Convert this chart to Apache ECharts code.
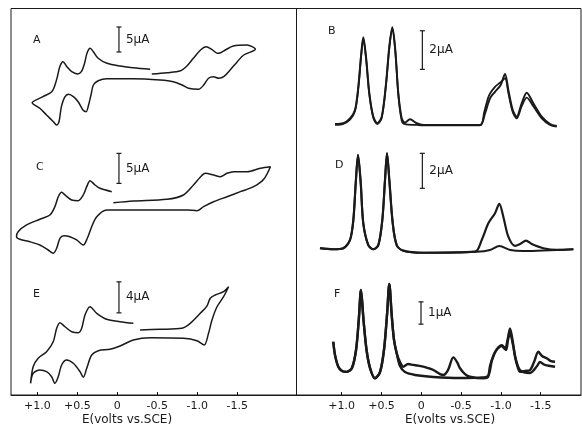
<!DOCTYPE html>
<html>
<head>
<meta charset="utf-8">
<script src="https://cdn.jsdelivr.net/npm/echarts@6/dist/echarts.min.js"></script>
<style>
html, body { margin: 0; padding: 0; background: #fff; }
#main { width: 582px; height: 430px; }
</style>
</head>
<body>
<div id="main"></div>
<script>
// potential ticks (volts vs SCE) on the bottom axes
var tickValues = [1, 0.5, 0, -0.5, -1, -1.5];

// cyclic voltammograms, [E (V), i (uA)] in sweep order
var cvA = [
	[-0.41,14.14],[-0.20,14.46],[-0.03,14.8],[0.13,15.34],[0.24,16.34],[0.30,17.66],[0.34,18.34],[0.38,17.34],
	[0.41,15.34],[0.45,13.66],[0.50,13.2],[0.57,13.66],[0.63,14.66],[0.68,15.66],[0.72,14.66],[0.75,12.66],
	[0.78,11.0],[0.82,9.66],[0.93,8.66],[1.065,7.46],
	[0.97,6.34],[0.885,5.0],[0.80,3.66],[0.76,3.0],[0.73,3.66],[0.70,6.66],[0.66,8.54],[0.61,9.14],[0.55,8.66],
	[0.49,7.66],[0.43,6.0],[0.39,5.66],[0.36,7.0],[0.33,9.0],[0.30,11.0],[0.24,11.86],[0.13,12.26],[-0.20,12.26],
	[-0.535,12.0],[-0.70,11.66],[-0.81,11.0],[-0.89,10.34],[-1.015,10.14],[-1.08,11.0],[-1.14,12.34],[-1.20,12.66],
	[-1.27,12.34],[-1.33,12.66],[-1.41,14.0],[-1.50,15.66],[-1.58,17.0],[-1.726,18.14],
	[-1.62,19.0],[-1.45,18.8],[-1.35,18.0],[-1.29,17.46],[-1.25,17.34],[-1.18,18.14],[-1.11,18.66],[-1.04,18.0],
	[-0.95,16.34],[-0.87,14.8],[-0.79,13.86],[-0.62,13.46],[-0.43,13.2]
];
var cvC = [
	[0.07,12.72],[0.217,13.28],[0.279,13.83],[0.342,14.55],[0.383,13.55],[0.426,12.17],[0.489,11.22],[0.571,11.33],
	[0.655,12.17],[0.697,12.62],[0.739,11.88],[0.781,10.22],[0.843,8.83],[0.969,8.12],[1.135,7.17],[1.241,6.05],[1.261,5.22],
	[1.219,4.78],[1.094,4.38],[0.969,3.83],[0.865,3.0],[0.802,2.45],[0.759,3.28],[0.718,4.95],[0.668,5.38],[0.593,5.22],
	[0.509,4.67],[0.426,3.83],[0.376,4.95],[0.321,6.88],[0.258,8.55],[0.133,9.67],[-0.20,9.67],[-0.619,9.67],[-0.87,9.67],
	[-0.995,9.55],[-1.078,10.22],[-1.203,11.05],[-1.371,11.88],[-1.538,12.72],[-1.704,13.55],[-1.83,14.78],[-1.914,16.88],
	[-1.788,16.62],[-1.622,16.05],[-1.454,16.05],[-1.371,15.78],[-1.287,15.22],[-1.203,15.5],[-1.099,15.78],[-1.036,15.12],
	[-0.952,13.83],[-0.827,12.17],[-0.619,11.45],[-0.20,11.17],[0.05,10.88]
];
var cvE = [
	[-0.20,9.25],[-0.034,9.46],[0.133,9.77],[0.258,10.54],[0.342,11.39],[0.405,10.32],[0.446,8.61],[0.489,8.04],
	[0.571,8.17],[0.655,8.81],[0.718,9.33],[0.759,8.61],[0.802,6.88],[0.885,5.59],[0.99,4.74],[1.053,3.65],[1.085,1.51],
	[1.053,2.8],[0.969,3.23],[0.885,3.01],[0.822,2.36],[0.781,1.51],[0.739,2.36],[0.697,3.87],[0.634,4.52],[0.551,4.09],
	[0.467,3.01],[0.426,2.28],[0.383,3.45],[0.321,5.16],[0.238,5.72],[0.091,5.9],[-0.034,6.32],[-0.20,7.1],[-0.41,7.39],
	[-0.827,7.32],[-0.995,7.01],[-1.086,6.45],[-1.14,7.96],[-1.183,9.68],[-1.246,11.39],[-1.328,12.68],[-1.391,13.97],
	[-1.328,13.33],[-1.224,12.9],[-1.162,12.48],[-1.12,11.48],[-1.036,10.54],[-0.911,9.25],[-0.807,8.61],[-0.535,8.48],[-0.284,8.39]
];

// differential pulse traces, [E (V), i (uA)]
var dpB1 = [
	[1.084,0.83],[0.98,0.87],[0.896,1.12],[0.833,1.55],[0.791,2.76],[0.758,4.32],[0.729,5.32],[0.695,4.32],[0.653,2.42],
	[0.603,1.21],[0.553,0.87],[0.497,1.21],[0.443,2.94],[0.402,4.83],[0.364,5.84],[0.327,4.66],[0.289,2.42],[0.246,1.12],
	[0.205,0.9],[0.142,1.07],[0.058,0.87],[-0.025,0.78],[-0.737,0.78],[-0.80,1.38],[-0.863,2.16],[-0.926,2.5],[-0.997,2.85],
	[-1.052,3.42],[-1.093,2.59],[-1.148,1.55],[-1.198,1.21],[-1.261,1.9],[-1.324,2.45],[-1.407,1.9],[-1.513,1.21],
	[-1.617,0.83],[-1.701,0.73]
];
var dpB2 = [
	[1.084,0.78],[0.98,0.84],[0.896,1.05],[0.833,1.5],[0.791,2.7],[0.758,4.25],[0.729,5.25],[0.695,4.25],[0.653,2.35],
	[0.603,1.15],[0.553,0.82],[0.497,1.15],[0.443,2.88],[0.402,4.78],[0.364,5.78],[0.327,4.6],[0.289,2.35],[0.246,1.0],
	[0.205,0.82],[0.058,0.78],[-0.025,0.76],[-0.737,0.76],[-0.79,1.45],[-0.85,2.3],[-0.926,2.75],[-0.997,3.0],
	[-1.052,3.2],[-1.093,2.45],[-1.148,1.45],[-1.198,1.12],[-1.261,1.75],[-1.324,2.2],[-1.407,1.75],[-1.513,1.12],
	[-1.617,0.78],[-1.701,0.7]
];
var dpDLeft = [
	[1.273,1.13],[1.106,1.07],[0.98,1.13],[0.896,1.6],[0.854,2.74],[0.824,4.84],[0.795,6.46],[0.761,4.84],[0.729,2.55],
	[0.666,1.31],[0.603,1.07],[0.54,1.31],[0.49,2.74],[0.456,5.03],[0.431,6.55],[0.402,5.03],[0.359,2.55],[0.309,1.31],
	[0.226,0.99],[-0.025,0.87]
];
var dpDRight1 = [
	[-0.675,0.93],[-0.759,1.6],[-0.842,2.55],[-0.926,3.13],[-0.98,3.66],[-1.03,2.93],[-1.093,1.79],[-1.177,1.26],
	[-1.24,1.37],[-1.315,1.56],[-1.387,1.37],[-1.533,1.13],[-1.701,1.03],[-1.91,1.07]
];
var dpDRight2 = [
	[-0.696,0.93],[-0.863,1.03],[-0.98,1.26],[-1.118,1.03],[-1.281,0.97],[-1.91,1.07]
];
var dpFLeft = [
	[1.106,2.39],[1.084,1.79],[1.043,1.27],[0.996,1.08],[0.937,1.04],[0.871,1.21],[0.82,2.02],[0.786,3.36],[0.758,4.71],
	[0.726,3.36],[0.688,2.02],[0.644,1.21],[0.582,0.75],[0.519,1.03],[0.469,2.02],[0.431,3.59],[0.402,4.98],[0.372,3.59],
	[0.343,2.47],[0.309,1.87]
];
var dpFRight1 = [
	[0.268,1.48],[0.226,1.27],[0.167,1.39],[0.101,1.35],[0.041,1.32],[-0.025,1.27],[-0.084,1.21],[-0.151,1.12],[-0.235,0.94],
	[-0.276,0.9],[-0.335,1.12],[-0.402,1.69],[-0.449,1.48],[-0.486,1.2],[-0.549,0.94],[-0.611,0.82],[-0.779,0.75],
	[-0.838,0.81],[-0.863,1.3],[-0.926,1.93],[-1.01,2.2],[-1.052,2.06],[-1.083,2.47],[-1.114,2.99],[-1.146,2.47],
	[-1.177,1.72],[-1.215,1.21],[-1.24,1.04],[-1.303,1.08],[-1.366,1.12],[-1.416,1.48],[-1.47,1.94],[-1.516,1.75],
	[-1.575,1.65],[-1.629,1.52],[-1.68,1.49]
];
var dpFRight2 = [
	[0.268,1.3],[0.205,1.03],[0.079,0.9],[-0.151,0.81],[-0.486,0.76],[-0.737,0.78],[-0.838,0.85],[-0.888,1.57],[-0.95,2.06],
	[-1.013,2.24],[-1.064,2.02],[-1.089,2.47],[-1.114,2.78],[-1.152,2.24],[-1.19,1.57],[-1.24,1.12],[-1.366,0.99],
	[-1.454,1.3],[-1.49,1.48],[-1.553,1.35],[-1.68,1.27]
];

// scale bars: [E, bottom, top, text]
var barA = [-0.02, 17.6, 22.6, '5\u00b5A'];
var barC = [-0.02, 14.1, 19.1, '5\u00b5A'];
var barE = [-0.02, 10.6, 14.6, '4\u00b5A'];
var barB = [-0.013, 3.66, 5.66, '2\u00b5A'];
var barD = [-0.013, 4.55, 6.55, '2\u00b5A'];
var barF = [0.004, 3.18, 4.18, '1\u00b5A'];

var panelLetters = ['A', 'C', 'E', 'B', 'D', 'F'];

var ink = '#1a1a1a';
var font = 'DejaVu Sans';

function fmtTick(v) {
	if (v > 0) return '+' + v.toFixed(1);
	if (v == 0) return '0';
	return v.toFixed(1);
}

var gridBoxes = [
	{ left: 11, top: 8, width: 285.5, height: 132 },
	{ left: 11, top: 140, width: 285.5, height: 128 },
	{ left: 11, top: 268, width: 285.5, height: 127 },
	{ left: 296.5, top: 8, width: 284.5, height: 132 },
	{ left: 296.5, top: 140, width: 284.5, height: 128 },
	{ left: 296.5, top: 268, width: 284.5, height: 127 }
];
var yMax = [26.4, 21.33, 16.39, 6.84, 7.31, 5.70];

var xAxes = [], yAxes = [];
for (var i = 0; i < 6; i++) {
	var leftCol = i < 3;
	var bottom = (i == 2 || i == 5);
	xAxes.push({
		gridIndex: i,
		type: 'value',
		inverse: true,
		min: leftCol ? -2.24 : -2.006,
		max: leftCol ? 1.33 : 1.568,
		show: bottom,
		axisLine: { show: true, onZero: false, lineStyle: { color: ink, width: 1 } },
		axisTick: { show: true, inside: true, length: 3, customValues: tickValues, lineStyle: { color: ink } },
		axisLabel: { customValues: tickValues, formatter: fmtTick, color: ink, fontFamily: font, fontSize: 11, margin: 6 },
		splitLine: { show: false }
	});
	yAxes.push({ gridIndex: i, type: 'value', min: 0, max: yMax[i], show: false });
}

function curve(data, idx, w) {
	return {
		type: 'line', xAxisIndex: idx, yAxisIndex: idx, data: data,
		showSymbol: false, smooth: 0.3, silent: true,
		lineStyle: { color: ink, width: w }
	};
}
function scaleBar(b, idx) {
	return {
		type: 'line', xAxisIndex: idx, yAxisIndex: idx, silent: true,
		symbol: 'rect', symbolSize: [5, 1.2], showAllSymbol: true,
		itemStyle: { color: ink },
		lineStyle: { color: ink, width: 1.2 },
		data: [
			{ value: [b[0], b[1]] },
			{ value: [b[0], (b[1] + b[2]) / 2], symbol: 'circle', symbolSize: 0.01,
				label: { show: true, position: 'right', distance: 7, formatter: b[3], color: ink, fontFamily: font, fontSize: 12 } },
			{ value: [b[0], b[2]] }
		]
	};
}

var series = [
	curve(cvA, 0, 1.5),
	curve(cvC, 1, 1.5),
	curve(cvE, 2, 1.5),
	curve(dpB1, 3, 2),
	curve(dpB2, 3, 1.8),
	curve(dpDLeft.concat(dpDRight1), 4, 2.2),
	curve(dpDLeft.concat(dpDRight2), 4, 2),
	curve(dpFLeft.concat(dpFRight1), 5, 2.4),
	curve(dpFLeft.concat(dpFRight2), 5, 2.4),
	scaleBar(barA, 0), scaleBar(barC, 1), scaleBar(barE, 2),
	scaleBar(barB, 3), scaleBar(barD, 4), scaleBar(barF, 5)
];

var letterPos = [[33, 35], [36, 162], [33, 289], [328, 26], [335, 160], [334, 289]];
var graphics = [
	{ type: 'rect', shape: { x: 11, y: 8.5, width: 570, height: 386.5 }, style: { fill: 'none', stroke: ink, lineWidth: 1 } },
	{ type: 'line', shape: { x1: 296.5, y1: 8.5, x2: 296.5, y2: 395 }, style: { stroke: ink, lineWidth: 1 } },
	{ type: 'text', x: 127, y: 420, style: { text: 'E(volts vs.SCE)', fill: ink, font: '12px "DejaVu Sans"', textAlign: 'center', textVerticalAlign: 'middle' } },
	{ type: 'text', x: 450, y: 420, style: { text: 'E(volts vs.SCE)', fill: ink, font: '12px "DejaVu Sans"', textAlign: 'center', textVerticalAlign: 'middle' } }
];
for (var k = 0; k < panelLetters.length; k++) {
	graphics.push({ type: 'text', x: letterPos[k][0], y: letterPos[k][1],
		style: { text: panelLetters[k], fill: ink, font: '11px "DejaVu Sans"' } });
}

var myChart = echarts.init(document.getElementById('main'), null, { renderer: 'canvas' });
myChart.setOption({
	animation: false,
	backgroundColor: '#fff',
	grid: gridBoxes,
	xAxis: xAxes,
	yAxis: yAxes,
	series: series,
	graphic: graphics
});
</script>
</body>
</html>
